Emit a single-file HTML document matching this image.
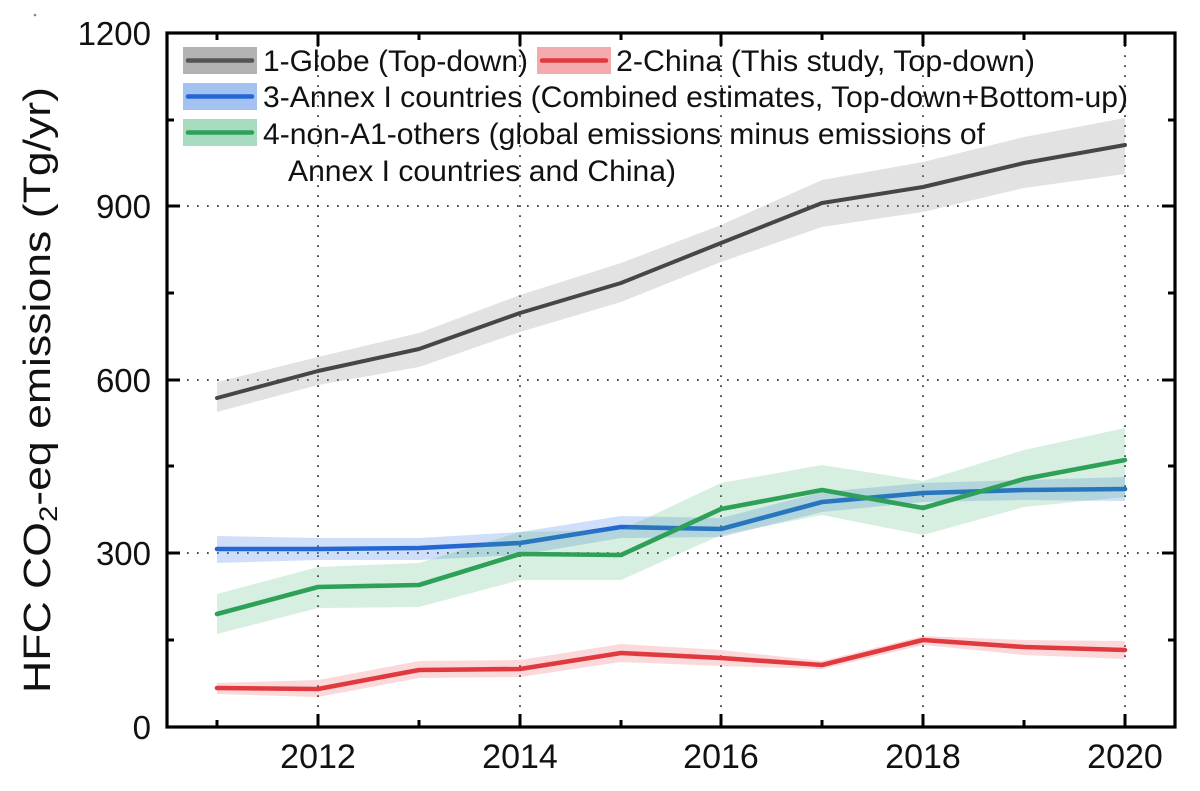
<!DOCTYPE html>
<html>
<head>
<meta charset="utf-8">
<style>
  html,body{margin:0;padding:0;background:#ffffff;}
  svg{display:block;}
  text{font-family:"Liberation Sans", Arial, sans-serif; fill:#111;}
</style>
</head>
<body>
<svg width="1200" height="791" viewBox="0 0 1200 791" xmlns="http://www.w3.org/2000/svg">
  <rect x="0" y="0" width="1200" height="791" fill="#ffffff"/>
  <circle cx="35" cy="15" r="1.3" fill="#888"/>

  <!-- grid -->
  <g stroke="#333" stroke-width="1.7" stroke-dasharray="1.7 8.3" fill="none">
    <line x1="318" y1="727" x2="318" y2="33"/>
    <line x1="520" y1="727" x2="520" y2="33"/>
    <line x1="721" y1="727" x2="721" y2="33"/>
    <line x1="923" y1="727" x2="923" y2="33"/>
    <line x1="1125" y1="727" x2="1125" y2="33"/>
    <line x1="167" y1="553" x2="1175" y2="553"/>
    <line x1="167" y1="380" x2="1175" y2="380"/>
    <line x1="167" y1="206" x2="1175" y2="206"/>
  </g>

  <!-- globe -->
  <polygon fill="rgb(150,150,150)" fill-opacity="0.28"
    points="217,382 318,357 419,333 520,295 621,263 721,225 822,180 923,162 1024,137 1125,118 1125,174 1024,188 923,212 822,227 721,262 621,302 520,332 419,367 318,385 217,412"/>
  <polyline fill="none" stroke="#464646" stroke-width="4" stroke-linejoin="round" stroke-linecap="round"
    points="217,398 318,371 419,349 520,313 621,283 721,243 822,203 923,187 1024,163 1125,145"/>

  <!-- china -->
  <polygon fill="rgb(235,80,90)" fill-opacity="0.22"
    points="217,683 318,680 419,661 520,660 621,644 721,650 822,661 923,636 1024,640 1125,641 1125,659 1024,655 923,645 822,669 721,666 621,662 520,677 419,678 318,697 217,694"/>
  <polyline fill="none" stroke="#e0393e" stroke-width="4.6" stroke-linejoin="round" stroke-linecap="round"
    points="217,688 318,689 419,670 520,669 621,653 721,658 822,665 923,640 1024,647 1125,650"/>

  <!-- annex I -->
  <polygon fill="rgb(100,150,235)" fill-opacity="0.30"
    points="217,536 318,538 419,538 520,532 621,516 721,518 822,492 923,483 1024,480 1125,477 1125,501 1024,500 923,502 822,512 721,537 621,538 520,555 419,560 318,560 217,563"/>
  <polyline fill="none" stroke="#2466d4" stroke-width="4.6" stroke-linejoin="round" stroke-linecap="round"
    points="217,549 318,549 419,548 520,543 621,527 721,529 822,502 923,493 1024,490 1125,489"/>

  <!-- non-A1 others -->
  <polygon fill="rgb(60,180,110)" fill-opacity="0.21"
    points="217,594 318,567 419,563 520,532 621,530 721,483 822,465 923,481 1024,450 1125,428 1125,497 1024,507 923,535 822,515 721,535 621,580 520,580 419,607 318,608 217,634"/>
  <polyline fill="none" stroke="#2fa058" stroke-width="4.6" stroke-linejoin="round" stroke-linecap="round"
    points="217,614 318,587 419,585 520,554 621,555 721,509 822,490 923,508 1024,479 1125,460"/>

  <!-- axes frame -->
  <rect x="167" y="33" width="1008" height="694" fill="none" stroke="#000" stroke-width="3.2"/>

  <!-- ticks -->
  <g stroke="#000" stroke-width="3">
    <line x1="318" y1="727" x2="318" y2="714"/>
    <line x1="520" y1="727" x2="520" y2="714"/>
    <line x1="721" y1="727" x2="721" y2="714"/>
    <line x1="923" y1="727" x2="923" y2="714"/>
    <line x1="1125" y1="727" x2="1125" y2="714"/>
    <line x1="217" y1="727" x2="217" y2="720"/>
    <line x1="419" y1="727" x2="419" y2="720"/>
    <line x1="621" y1="727" x2="621" y2="720"/>
    <line x1="822" y1="727" x2="822" y2="720"/>
    <line x1="1024" y1="727" x2="1024" y2="720"/>
    <line x1="318" y1="33" x2="318" y2="46"/>
    <line x1="520" y1="33" x2="520" y2="46"/>
    <line x1="721" y1="33" x2="721" y2="46"/>
    <line x1="923" y1="33" x2="923" y2="46"/>
    <line x1="1125" y1="33" x2="1125" y2="46"/>
    <line x1="217" y1="33" x2="217" y2="40"/>
    <line x1="419" y1="33" x2="419" y2="40"/>
    <line x1="621" y1="33" x2="621" y2="40"/>
    <line x1="822" y1="33" x2="822" y2="40"/>
    <line x1="1024" y1="33" x2="1024" y2="40"/>
    <line x1="167" y1="553" x2="180" y2="553"/>
    <line x1="167" y1="380" x2="180" y2="380"/>
    <line x1="167" y1="206" x2="180" y2="206"/>
    <line x1="167" y1="640" x2="174" y2="640"/>
    <line x1="167" y1="466" x2="174" y2="466"/>
    <line x1="167" y1="293" x2="174" y2="293"/>
    <line x1="167" y1="120" x2="174" y2="120"/>
    <line x1="1175" y1="553" x2="1162" y2="553"/>
    <line x1="1175" y1="380" x2="1162" y2="380"/>
    <line x1="1175" y1="206" x2="1162" y2="206"/>
    <line x1="1175" y1="640" x2="1168" y2="640"/>
    <line x1="1175" y1="466" x2="1168" y2="466"/>
    <line x1="1175" y1="293" x2="1168" y2="293"/>
    <line x1="1175" y1="120" x2="1168" y2="120"/>
  </g>

  <!-- x tick labels -->
  <g font-size="34" text-anchor="middle">
    <text x="318" y="768">2012</text>
    <text x="520" y="768">2014</text>
    <text x="721" y="768">2016</text>
    <text x="923" y="768">2018</text>
    <text x="1125" y="768">2020</text>
  </g>
  <!-- y tick labels -->
  <g font-size="33" text-anchor="end">
    <text x="151" y="739">0</text>
    <text x="151" y="565">300</text>
    <text x="151" y="392">600</text>
    <text x="151" y="218">900</text>
    <text x="151" y="45">1200</text>
  </g>

  <!-- y axis label -->
  <text transform="translate(50,390) rotate(-90)" font-size="38" text-anchor="middle" textLength="606" lengthAdjust="spacingAndGlyphs">HFC CO<tspan font-size="25" dy="7">2</tspan><tspan dy="-7">-eq emissions (Tg/yr)</tspan></text>

  <!-- legend -->
  <rect x="183" y="47" width="74" height="27" fill="#b3b3b3"/>
  <line x1="188" y1="60.5" x2="252" y2="60.5" stroke="#555" stroke-width="4.5" stroke-linecap="round"/>
  <text x="263" y="71" font-size="30" textLength="265" lengthAdjust="spacingAndGlyphs">1-Globe (Top-down)</text>

  <rect x="537" y="47" width="74" height="27" fill="#f5aaae"/>
  <line x1="542" y1="60.5" x2="606" y2="60.5" stroke="#e0393e" stroke-width="4.5" stroke-linecap="round"/>
  <text x="616" y="71" font-size="30" textLength="419" lengthAdjust="spacingAndGlyphs">2-China (This study, Top-down)</text>

  <rect x="183" y="83" width="74" height="27" fill="#a3c2f2"/>
  <line x1="188" y1="96.5" x2="252" y2="96.5" stroke="#2466d4" stroke-width="4.5" stroke-linecap="round"/>
  <text x="263" y="107" font-size="30" textLength="865" lengthAdjust="spacingAndGlyphs">3-Annex I countries (Combined estimates, Top-down+Bottom-up)</text>

  <rect x="183" y="119" width="74" height="27" fill="#a8dcc0"/>
  <line x1="188" y1="132.5" x2="252" y2="132.5" stroke="#2fa058" stroke-width="4.5" stroke-linecap="round"/>
  <text x="263" y="144" font-size="30" textLength="722" lengthAdjust="spacingAndGlyphs">4-non-A1-others (global emissions minus emissions of</text>
  <text x="288" y="181" font-size="30" textLength="388" lengthAdjust="spacingAndGlyphs">Annex I countries and China)</text>
</svg>
</body>
</html>
